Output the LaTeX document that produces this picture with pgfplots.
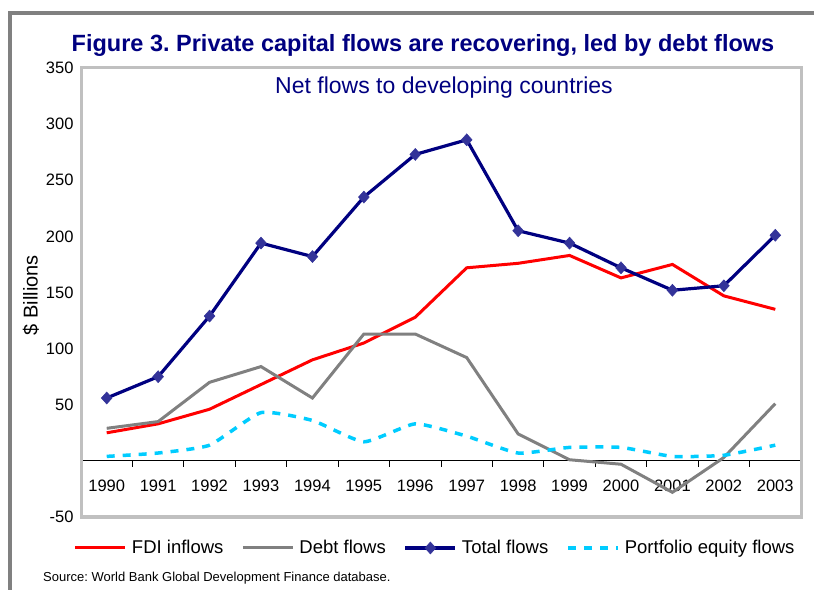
\documentclass[border=0pt]{standalone}
\usepackage{pgfplots}
\usepackage{pgfplotstable}
\pgfplotsset{compat=1.18}
\usepackage{fontspec}
\setmainfont{Liberation Sans}
\frenchspacing
\definecolor{navy}{RGB}{0,0,128}
\definecolor{markblue}{RGB}{51,51,153}
\definecolor{skyc}{RGB}{0,204,255}
\definecolor{linegray}{RGB}{128,128,128}
\definecolor{boxgray}{RGB}{192,192,192}

\pgfplotstableread{
year fdi debt total port
1990 25  29  56  4
1991 33  35  75  7
1992 46  70  129 14
1993 68  84  194 43
1994 90  56  182 36
1995 105 113 235 17
1996 128 113 273 33
1997 172 92  286 22
1998 176 24  205 7
1999 183 1   194 12
2000 163 -3  172 12
2001 175 -28 152 4
2002 147 3   156 5
2003 135 51  201 14
}\flows

\begin{document}
\begin{tikzpicture}
\useasboundingbox (0,0) rectangle (814bp,590bp);
% outer frame
\draw[linegray, line width=4bp] (10bp,0) -- (10bp,577bp) -- (814bp,577bp);
% titles
\node[anchor=base, text=navy, font=\bfseries\fontsize{23.5bp}{28bp}\selectfont] at (423bp,538bp)
  {Figure 3. Private capital flows are recovering, led by debt flows};
\begin{axis}[
  at={(81bp,73bp)}, anchor=south west,
  scale only axis, width=720bp, height=449bp,
  xmin=1989.5, xmax=2003.5, ymin=-50, ymax=350,
  axis x line*=middle, axis y line*=left,
  x axis line style={black, line width=0.8bp},
  y axis line style={draw=none},
  xtick={1990,...,2003},
  minor xtick={1989.5,1990.5,...,2003.5},
  ytick={-50,50,100,...,350},
  major tick length=0pt, minor tick length=6bp,
  tick align=outside,
  minor tick style={black, line width=0.8bp},
  /pgf/number format/assume math mode=true,
  x tick label style={/pgf/number format/1000 sep={}, yshift=-16bp},
  y tick label style={xshift=-4bp},
  tick label style={font=\fontsize{16.5bp}{20bp}\selectfont},
  clip=false,
  legend columns=4,
  legend style={at={(0.492,-0.069)}, anchor=center, draw=none, fill=none,
    font=\fontsize{18.5bp}{22bp}\selectfont,
    /tikz/every even column/.append style={column sep=16bp},
    /tikz/every odd column/.append style={column sep=3bp}},
  legend image code/.code={\draw[mark repeat=2,mark phase=2,#1] plot coordinates {(0bp,0bp) (25bp,0bp) (50bp,0bp)};},
]
\draw[boxgray, line width=3bp] (rel axis cs:0,0) rectangle (rel axis cs:1,1);
\addplot[red, line width=3bp, no marks] table[x=year, y=fdi] {\flows};
\addplot[linegray, line width=3bp, no marks] table[x=year, y=debt] {\flows};
\addplot[navy, line width=3.2bp, mark=diamond*, mark size=6bp,
  mark options={fill=markblue, draw=markblue, line width=0.5bp, xscale=1.2}] table[x=year, y=total] {\flows};
\addplot[skyc, line width=3.5bp, no marks, smooth, tension=0.3, dash pattern=on 8bp off 8bp] table[x=year, y=port] {\flows};
\legend{FDI inflows, Debt flows, Total flows, Portfolio equity flows}
\end{axis}
\node[text=navy, font=\fontsize{23bp}{27bp}\selectfont] at (444bp,502bp) {Net flows to developing countries};
\node[rotate=90, font=\fontsize{20bp}{24bp}\selectfont] at (31bp,295bp) {\$ Billions};
\node[anchor=base west, inner sep=0pt, font=\fontsize{13bp}{15bp}\selectfont] at (43bp,9bp)
  {Source: World Bank Global Development Finance database.};
\end{tikzpicture}
\end{document}
